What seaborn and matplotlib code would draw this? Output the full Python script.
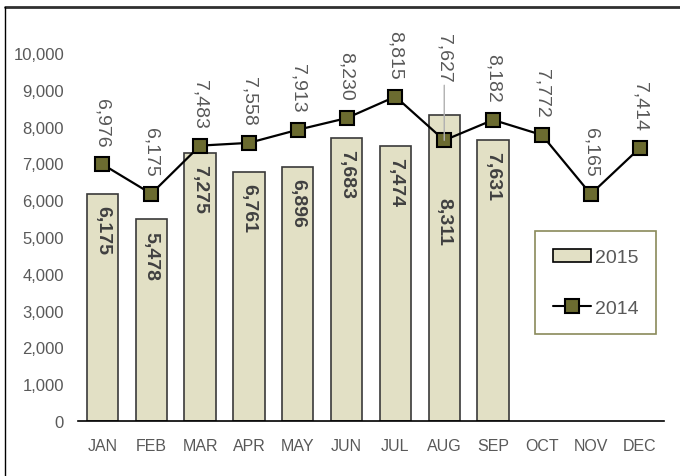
import pandas as pd
import numpy as np
import seaborn as sns
import matplotlib.pyplot as plt
from matplotlib.lines import Line2D
from matplotlib.patches import Patch
from matplotlib.ticker import FuncFormatter

months = ['JAN', 'FEB', 'MAR', 'APR', 'MAY', 'JUN', 'JUL', 'AUG', 'SEP', 'OCT', 'NOV', 'DEC']
meses2015 = ['JAN', 'FEB', 'MAR', 'APR', 'MAY', 'JUN', 'JUL', 'AUG', 'SEP']
valores2015 = [6175, 5478, 7275, 6761, 6896, 7683, 7474, 8311, 7631]
valores2014 = [6976, 6175, 7483, 7558, 7913, 8230, 8815, 7627, 8182, 7772, 6165, 7414]

color_barra = '#E2E0C5'
color_marca = '#6B6B30'
gris = '#595959'

sns.set_theme(style='white')
plt.rcParams['font.family'] = ['Liberation Sans', 'DejaVu Sans']

fig = plt.figure(figsize=(6.8, 4.77), dpi=100)
ax = fig.add_axes([78/680, 55/477, (664-78)/680, (422-54)/477])

df2015 = pd.DataFrame({'MES': meses2015, 'VALOR': valores2015})
df2014 = pd.DataFrame({'MES': months, 'VALOR': valores2014})

sns.barplot(data=df2015, x='MES', y='VALOR', order=months, color=color_barra,
            width=0.645, edgecolor='#3a3a3a', linewidth=1.2, saturation=1, ax=ax)
sns.pointplot(data=df2014, x='MES', y='VALOR', order=months, color='black',
              markers='s', markersize=10, linewidth=1.6, ax=ax)
for ln in ax.lines:
    ln.set_markerfacecolor(color_marca)
    ln.set_markeredgecolor('black')
    ln.set_markeredgewidth(1.5)
    ln.set_zorder(5)

ax.set_ylim(0, 10000)
ax.set_xlim(-0.5, 11.5)
ax.set_yticks(np.arange(0, 10001, 1000))
ax.yaxis.set_major_formatter(FuncFormatter(lambda v, p: f'{int(v):,}'))
ax.tick_params(axis='y', length=0, pad=10, labelsize=12, labelcolor=gris)
ax.tick_params(axis='x', length=0, pad=12, labelsize=11.5, labelcolor=gris)
for lbl in ax.get_xticklabels():
    lbl.set_family(['Liberation Sans Narrow', 'Liberation Sans'])
ax.set_xlabel('')
ax.set_ylabel('')
for s in ['top', 'right', 'left']:
    ax.spines[s].set_visible(False)
ax.spines['bottom'].set_color('black')
ax.spines['bottom'].set_linewidth(1.2)

# etiquetas de las barras (AUG se baja para no tapar el marcador)
for i, v in enumerate(valores2015):
    desplaz = -59 if meses2015[i] == 'AUG' else -8
    ax.annotate(f'{v:,}', (i, v), xytext=(0, desplaz), textcoords='offset points',
                ha='center', va='top', rotation=270, fontsize=14,
                fontweight='bold', color='#404040', zorder=6)

# etiquetas de la linea
for i, v in enumerate(valores2014):
    if months[i] == 'AUG':
        ax.annotate(f'{v:,}', (i, v), xytext=(0, 42), textcoords='offset points',
                    ha='center', va='bottom', rotation=270, fontsize=14, color=gris,
                    arrowprops=dict(arrowstyle='-', color='#b0b0b0', lw=1,
                                    shrinkA=0, shrinkB=0), zorder=6)
    else:
        ax.annotate(f'{v:,}', (i, v), xytext=(0, 13), textcoords='offset points',
                    ha='center', va='bottom', rotation=270, fontsize=14, color=gris,
                    zorder=6)

handles = [Patch(facecolor=color_barra, edgecolor='black', linewidth=1.2),
           Line2D([0], [0], color='black', lw=1.5, marker='s', markersize=10,
                  markerfacecolor=color_marca, markeredgecolor='black', markeredgewidth=1.5)]
leg = fig.legend(handles, ['2015', '2014'], loc='upper left',
                 bbox_to_anchor=(535/680, 1 - 232/477), borderaxespad=0,
                 fontsize=14, handlelength=2.0, handletextpad=0.2, labelspacing=1.7,
                 borderpad=0.9, fancybox=False, framealpha=1, labelcolor=gris)
leg.get_frame().set_edgecolor('#8a8a5a')
leg.get_frame().set_linewidth(1.2)

# marco del grafico
fig.add_artist(Line2D([5/680, 1], [1 - 8/477, 1 - 8/477], transform=fig.transFigure,
                      color='#303030', lw=2))
fig.add_artist(Line2D([5/680, 5/680], [0, 1 - 8/477], transform=fig.transFigure,
                      color='black', lw=1))

fig.savefig('out.png', dpi=100)
